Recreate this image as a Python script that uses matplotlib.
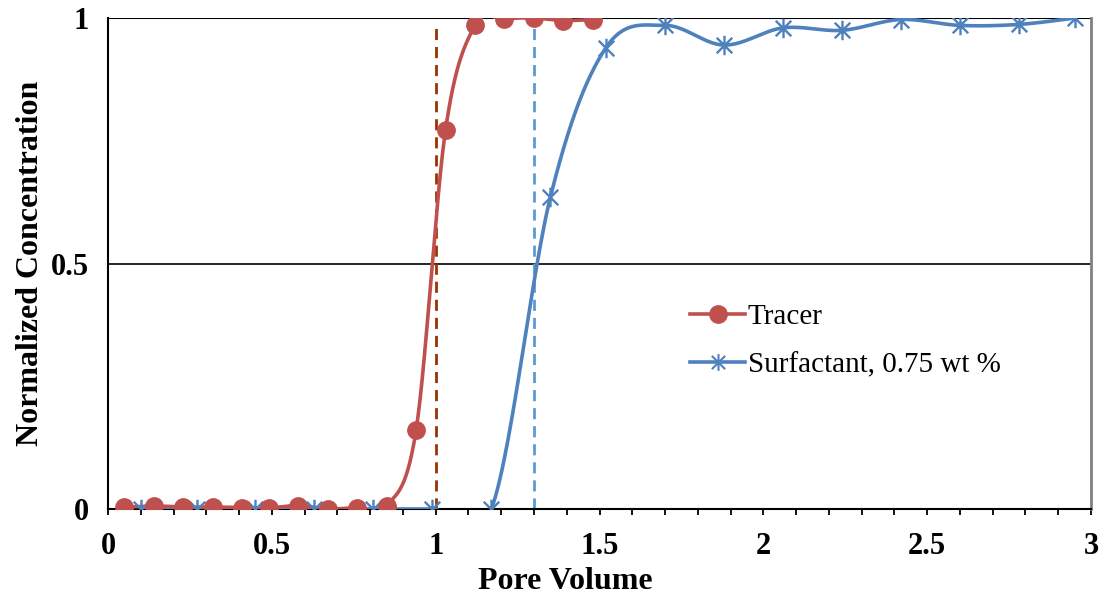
import numpy as np
import matplotlib.pyplot as plt
from matplotlib.path import Path

# data
tracer_pv = [0.05, 0.14, 0.23, 0.32, 0.41, 0.49, 0.58, 0.67, 0.76, 0.85,
             0.94, 1.03, 1.12, 1.21, 1.30, 1.39, 1.48]
tracer_c = [0.004, 0.006, 0.004, 0.004, 0.003, 0.002, 0.007, 0.0, 0.003, 0.006,
            0.16, 0.772, 0.985, 0.998, 1.0, 0.995, 0.997]

surf_pv = [0.10, 0.27, 0.45, 0.63, 0.81, 0.99, 1.17, 1.35, 1.52, 1.70,
           1.88, 2.06, 2.24, 2.42, 2.60, 2.78, 2.95]
surf_c = [0.0, 0.0, 0.0, 0.0, 0.0, 0.0, 0.0, 0.635, 0.94, 0.985,
          0.945, 0.98, 0.975, 0.997, 0.985, 0.987, 1.0]

tracer_bt = 1.0      # breakthrough pore volumes (dashed lines)
surf_bt = 1.30


def smooth(x, y, n=30):
    # Excel-style smoothed line: cubic bezier with catmull-rom control points
    x = np.asarray(x, float)
    y = np.asarray(y, float)
    p = np.column_stack([x, y])
    p = np.vstack([p[0], p, p[-1]])
    t = np.linspace(0, 1, n)[:, None]
    out = []
    for i in range(1, len(p) - 2):
        p0, p1, p2, p3 = p[i - 1], p[i], p[i + 1], p[i + 2]
        c1 = p1 + (p2 - p0) / 6
        c2 = p2 - (p3 - p1) / 6
        seg = ((1 - t) ** 3) * p1 + 3 * ((1 - t) ** 2) * t * c1 + 3 * (1 - t) * t ** 2 * c2 + t ** 3 * p2
        out.append(seg)
    out = np.vstack(out)
    return out[:, 0], out[:, 1]


star = Path([(0, -1), (0, 1), (-0.8, -0.8), (0.8, 0.8), (-0.8, 0.8), (0.8, -0.8)],
            [Path.MOVETO, Path.LINETO, Path.MOVETO, Path.LINETO, Path.MOVETO, Path.LINETO])

plt.rcParams['font.family'] = ['Liberation Serif', 'DejaVu Serif']

red = '#C0504D'
blue = '#4F81BD'

fig = plt.figure(figsize=(11.06, 5.96), dpi=100)
ax = fig.add_axes([0.0977, 0.146, 0.8887, 0.8237])

ax.axhline(0.5, color='black', lw=1.2, zorder=1)
ax.axhline(1.0, color='black', lw=1.5, zorder=1)

ax.plot([tracer_bt, tracer_bt], [0, 0.98], color='#993300', lw=2, ls=(0, (4, 2.5)), zorder=2)
ax.plot([surf_bt, surf_bt], [0, 0.98], color='#5B9BD5', lw=2, ls=(0, (4, 2.5)), zorder=2)

sx, sy = smooth(surf_pv, surf_c)
ax.plot(sx, sy, color=blue, lw=2.6, zorder=3)
ax.plot(surf_pv, surf_c, ls='none', marker=star, ms=14, mec=blue, mew=1.7, mfc='none', zorder=4)

tx, ty = smooth(tracer_pv, tracer_c)
ax.plot(tx, ty, color=red, lw=2.6, zorder=3)
ax.plot(tracer_pv, tracer_c, ls='none', marker='o', ms=12.5, color=red, zorder=4)

# legend handles
ax.plot([], [], color=red, lw=2.6, marker='o', ms=12.5, label='Tracer')
ax.plot([], [], color=blue, lw=2.6, marker=star, ms=12, mew=1.5, mfc='none',
        label='Surfactant, 0.75 wt %')
handles, labels = ax.get_legend_handles_labels()
ax.legend(handles, labels, loc='upper left', bbox_to_anchor=(0.592, 0.418), frameon=False,
          fontsize=21, handlelength=1.9, handletextpad=0.08, labelspacing=0.75,
          borderaxespad=0, borderpad=0)

ax.set_xlim(0, 3)
ax.set_ylim(0, 1)
ax.set_xticks([0, 0.5, 1, 1.5, 2, 2.5, 3])
ax.set_xticklabels(['0', '0.5', '1', '1.5', '2', '2.5', '3'])
ax.set_xticks(np.arange(0, 3.01, 0.1), minor=True)
ax.set_yticks([0, 0.5, 1])
ax.set_yticklabels(['0', '0.5', '1'])
ax.tick_params(axis='x', which='both', direction='out', length=4.5, width=1.3, pad=12,
               labelsize=22)
ax.tick_params(axis='y', length=0, pad=14, labelsize=22)
for lab in ax.get_xticklabels() + ax.get_yticklabels():
    lab.set_fontweight('bold')

ax.spines['top'].set_visible(False)
ax.spines['right'].set_color('#808080')
ax.spines['right'].set_linewidth(2)
ax.spines['left'].set_linewidth(1.5)
ax.spines['bottom'].set_linewidth(1.5)

ax.set_xlabel('Pore Volume', fontsize=23, fontweight='bold')
ax.xaxis.set_label_coords(0.465, -0.118)
ax.set_ylabel('Normalized Concentration', fontsize=23, fontweight='bold')
ax.yaxis.set_label_coords(-0.064, 0.5)

fig.savefig('out.png', dpi=100)
